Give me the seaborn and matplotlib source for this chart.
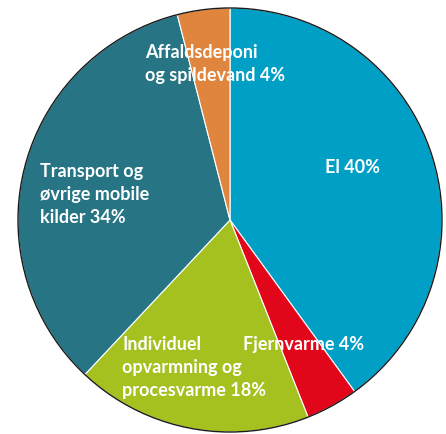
import matplotlib
matplotlib.use("Agg")
import matplotlib.pyplot as plt
import seaborn as sns
from matplotlib.patches import Circle

sns.set_theme(style="white")
plt.rcParams['font.family'] = ['Lato', 'DejaVu Sans']

labels = ["El 40%", "Fjernvarme 4%", "Individuel\nopvarmning og\nprocesvarme 18%",
          "Transport og\nøvrige mobile\nkilder 34%", "Affaldsdeponi\nog spildevand 4%"]
values = [40, 4, 18, 34, 4]
colors = ["#00a0c6", "#e2061a", "#a4c11f", "#277584", "#e0853d"]

W, H = 446, 435
fig = plt.figure(figsize=(W / 100, H / 100), dpi=100)
ax = fig.add_axes([0, 0, 1, 1])

cx, cy, r = 230, H - 221, 212
ax.pie(values, colors=colors, startangle=90, counterclock=False,
       center=(cx, cy), radius=r, frame=True,
       wedgeprops=dict(edgecolor="white", linewidth=0.8))
ax.add_patch(Circle((cx, cy), r, fill=False, edgecolor="#1a1a1a", linewidth=1.0, zorder=5))
ax.set_xlim(0, W)
ax.set_ylim(0, H)
ax.set_aspect("equal")
ax.axis("off")

# label placement: left x and first-line baseline (pixels from top), line step 23 px
pos = [(325, 173), (243, 350), (122, 350), (40, 177), (145, 58)]
step = 23
for lab, (x, y) in zip(labels, pos):
    for i, line in enumerate(lab.split("\n")):
        ax.text(x, H - (y + i * step), line, color="white", fontsize=13,
                fontweight="bold", ha="left", va="baseline", zorder=6)

fig.savefig("out.png", dpi=100)
